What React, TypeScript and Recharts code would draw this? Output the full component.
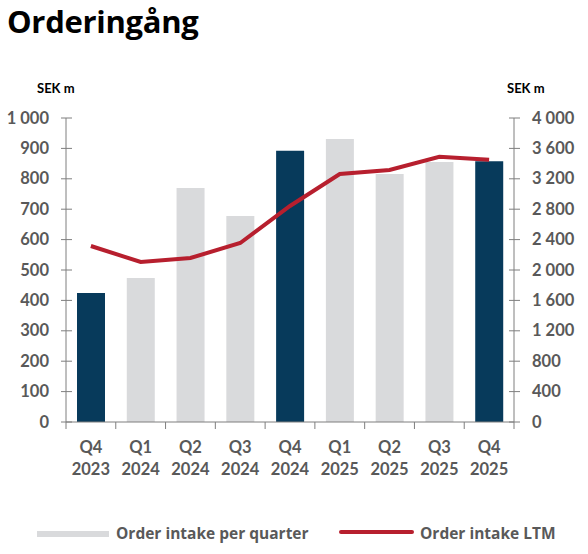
import React from 'react'
import { ComposedChart, Bar, Line, XAxis, YAxis, Cell } from 'recharts'

const categories = ['Q4 2023', 'Q1 2024', 'Q2 2024', 'Q3 2024', 'Q4 2024', 'Q1 2025', 'Q2 2025', 'Q3 2025', 'Q4 2025']
const quarterly = [424, 474, 770, 678, 892, 931, 816, 855, 858]
const ltm = [2316, 2105, 2158, 2355, 2842, 3263, 3316, 3490, 3450]
const leftTicks = [0, 100, 200, 300, 400, 500, 600, 700, 800, 900, 1000]
const rightTicks = [0, 400, 800, 1200, 1600, 2000, 2400, 2800, 3200, 3600, 4000]

const NAVY = '#073A5B'
const GREY = '#D9DADC'
const RED = '#B71F2E'
const TEXT = '#595959'
const AXIS = '#7F7F7F'
const FONT = 'Lato, "Open Sans", sans-serif'
const LEGEND_FONT = '"Open Sans", sans-serif'

const data = categories.map((c, i) => ({ cat: c, quarterly: quarterly[i], ltm: ltm[i] }))

const fmt = (v: number) => String(v).replace(/\B(?=(\d{3})+(?!\d))/g, ' ')

const TICK_SIZE = 5
const TICK_MARGIN = 12
const BAND = 448 / categories.length

function LeftTick({ x, y, payload }: any) {
  const ax = x + TICK_SIZE + TICK_MARGIN
  return (
    <g>
      <line x1={ax - 5} x2={ax + 6} y1={y} y2={y} stroke={AXIS} strokeWidth={1} />
      <text x={x} y={y} dy={5.5} textAnchor="end" fill={TEXT} fontSize={16.5} fontWeight={700} fontFamily={FONT}>
        {fmt(payload.value)}
      </text>
    </g>
  )
}

function RightTick({ x, y, payload }: any) {
  const ax = x - TICK_SIZE - TICK_MARGIN
  return (
    <g>
      <line x1={ax - 5} x2={ax + 6} y1={y} y2={y} stroke={AXIS} strokeWidth={1} />
      <text x={ax + 18} y={y} dy={5.5} textAnchor="start" fill={TEXT} fontSize={16.5} fontWeight={700} fontFamily={FONT}>
        {fmt(payload.value)}
      </text>
    </g>
  )
}

function CatTick({ x, y, payload, index }: any) {
  const ay = y - TICK_SIZE - 2
  const [q, yr] = String(payload.value).split(' ')
  const last = index === categories.length - 1
  return (
    <g>
      <line x1={x - BAND / 2} x2={x - BAND / 2} y1={ay} y2={ay + 7} stroke={AXIS} strokeWidth={1} />
      {last && <line x1={x + BAND / 2} x2={x + BAND / 2} y1={ay} y2={ay + 7} stroke={AXIS} strokeWidth={1} />}
      <text x={x} y={ay + 31} textAnchor="middle" fill={TEXT} fontSize={16.5} fontWeight={700} fontFamily={FONT}>
        {q}
      </text>
      <text x={x} y={ay + 53} textAnchor="middle" fill={TEXT} fontSize={16.5} fontWeight={700} fontFamily={FONT}>
        {yr}
      </text>
    </g>
  )
}

export default function App() {
  return (
    <div style={{ position: 'absolute', left: 0, top: 0, width: 588, height: 554, background: '#fff', fontFamily: FONT }}>
      <div style={{ position: 'absolute', left: 7, top: 0, fontSize: 31, lineHeight: 'normal', fontWeight: 700, color: '#000', fontFamily: '"Open Sans", sans-serif', letterSpacing: -0.3 }}>
        Orderingång
      </div>
      <div style={{ position: 'absolute', left: 37, top: 80, fontSize: 13, fontWeight: 700, color: '#000' }}>SEK m</div>
      <div style={{ position: 'absolute', left: 507, top: 80, fontSize: 13, fontWeight: 700, color: '#000' }}>SEK m</div>
      <ComposedChart
        width={588}
        height={554}
        data={data}
        margin={{ top: 118, right: 0, bottom: 0, left: 0 }}
        barSize={28}
      >
        <XAxis
          dataKey="cat"
          height={132}
          axisLine={{ stroke: AXIS }}
          tickLine={false}
          tickSize={TICK_SIZE}
          tickMargin={2}
          interval={0}
          tick={<CatTick />}
        />
        <YAxis
          yAxisId="left"
          orientation="left"
          width={66}
          domain={[0, 1000]}
          ticks={leftTicks}
          interval={0}
          axisLine={{ stroke: AXIS }}
          tickLine={false}
          tickSize={TICK_SIZE}
          tickMargin={TICK_MARGIN}
          tick={<LeftTick />}
        />
        <YAxis
          yAxisId="right"
          orientation="right"
          width={74}
          domain={[0, 4000]}
          ticks={rightTicks}
          interval={0}
          axisLine={{ stroke: AXIS }}
          tickLine={false}
          tickSize={TICK_SIZE}
          tickMargin={TICK_MARGIN}
          tick={<RightTick />}
        />
        <Bar yAxisId="left" dataKey="quarterly" isAnimationActive={false}>
          {data.map((d) => (
            <Cell key={d.cat} fill={d.cat.startsWith('Q4') ? NAVY : GREY} />
          ))}
        </Bar>
        <Line
          yAxisId="right"
          dataKey="ltm"
          stroke={RED}
          strokeWidth={4}
          dot={false}
          activeDot={false}
          type="linear"
          isAnimationActive={false}
        />
      </ComposedChart>
      <div style={{ position: 'absolute', left: 37, top: 531, width: 72, height: 6, background: GREY }} />
      <div style={{ position: 'absolute', left: 116, top: 523, fontSize: 15.5, fontWeight: 700, color: TEXT, lineHeight: '20px', fontFamily: LEGEND_FONT }}>
        Order intake per quarter
      </div>
      <div style={{ position: 'absolute', left: 339, top: 530, width: 75, height: 4, borderRadius: 2, background: RED }} />
      <div style={{ position: 'absolute', left: 420, top: 523, fontSize: 15.5, fontWeight: 700, color: TEXT, lineHeight: '20px', fontFamily: LEGEND_FONT }}>
        Order intake LTM
      </div>
    </div>
  )
}
